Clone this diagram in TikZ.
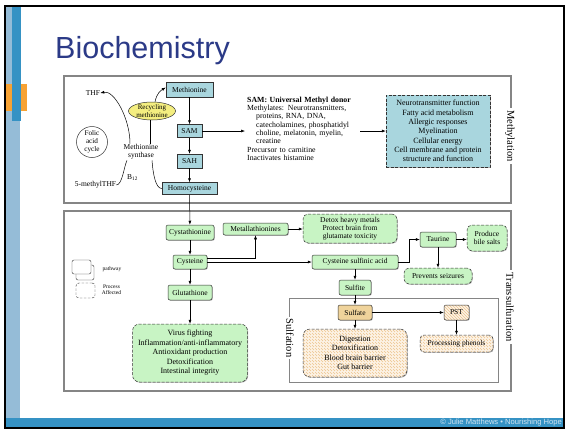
\documentclass[tikz,border=0pt]{standalone}
\usepackage{fontspec}
\setmainfont{Liberation Serif}
\newfontfamily\slidesans{Liberation Sans}
\usetikzlibrary{arrows.meta,patterns,shadows,shapes.geometric,calc}

\definecolor{slideblue}{HTML}{3592C4}
\definecolor{paleblue}{HTML}{95BCD7}
\definecolor{accent}{HTML}{F7A233}
\definecolor{titleblue}{HTML}{2B3A87}
\definecolor{footertext}{HTML}{D2E5F2}
\definecolor{methfill}{HTML}{A9D6DE}
\definecolor{greenfill}{HTML}{C8F4C4}
\definecolor{yellowfill}{HTML}{F4EE80}
\definecolor{tanfill}{HTML}{EFD39B}
\definecolor{hatchbg}{HTML}{FDF3E6}
\definecolor{hatchline}{HTML}{EDC48E}
\definecolor{panelline}{HTML}{858585}

\tikzset{
  txt/.style={font=\fontsize{7.5}{8.5}\selectfont, align=center, inner sep=0pt},
  softshadow/.style={drop shadow={shadow xshift=0.7pt, shadow yshift=-0.7pt, opacity=0.3, fill=black}},
  box/.style={draw=black!80, line width=0.5pt, font=\fontsize{7.5}{8.5}\selectfont,
    align=center, inner sep=0pt, minimum height=14pt, softshadow},
  methbox/.style={box, fill=methfill},
  greenbox/.style={box, fill=greenfill, rounded corners=2pt},
  dgreen/.style={greenbox, dash pattern=on 3pt off 1.5pt, rounded corners=5pt},
  hatchbox/.style={box, preaction={fill=hatchbg}, pattern=north west lines,
    pattern color=hatchline, rounded corners=2pt},
  arr/.style={-{Latex[length=4pt,width=3pt]}, line width=0.5pt},
  link/.style={line width=0.5pt},
  panel/.style={draw=panelline, line width=1.2pt},
  sidelabel/.style={fill=white, rotate=-90, inner sep=2pt, font=\fontsize{10.5}{12}\selectfont},
  legendtxt/.style={font=\fontsize{5.5}{6.3}\selectfont, align=center, inner sep=0pt},
}

\begin{document}
\begin{tikzpicture}[x=1pt, y=-1pt]
\useasboundingbox (0,0) rectangle (565,429);
\fill[white] (0,0) rectangle (565,429);

% slide frame and decoration
\fill[paleblue] (6,7) rectangle (20,418);
\fill[accent] (6,84) rectangle (27,111);
\fill[slideblue] (12,7) rectangle (21,121);
\fill[slideblue] (6,418) rectangle (564,428);
\draw[black, line width=1.6pt] (5,6) rectangle (564,428);
\node[anchor=east, inner sep=0pt, font=\slidesans\fontsize{7.6}{8}\selectfont, text=footertext] (footer) at (562,423) {© Julie Matthews • Nourishing Hope};
\node[anchor=base west, inner sep=0pt, font=\slidesans\fontsize{30.5}{31}\selectfont, text=titleblue] (title) at (55,58) {Biochemistry};

% panels
\draw[panel] (64,76) rectangle (511,203);
\draw[panel] (64,211) rectangle (511,391);
\draw[panelline, line width=1pt] (289,298) rectangle (498,382);
\node[sidelabel] (methyl) at (510,136) {Methylation};
\node[sidelabel] (trans) at (510,307) {Transsulfuration};
\node[sidelabel] (sulfa) at (290,338) {Sulfation};

% methylation cycle
\node[methbox, minimum width=47pt, minimum height=15pt] (meth) at (189.5,89.5) {Methionine};
\node[methbox, minimum width=25pt, minimum height=13pt] (sam) at (189.5,131) {SAM};
\node[methbox, minimum width=25pt, minimum height=14pt] (sah) at (189.5,161) {SAH};
\node[methbox, minimum width=55pt, minimum height=12pt] (homo) at (189.5,188.5) {Homocysteine};

\node[txt] (thf) at (93,93) {THF};
\node[draw=black!80, fill=yellowfill, ellipse, line width=0.5pt, minimum width=47pt, minimum height=18pt,
  inner sep=0pt, align=center, font=\fontsize{7}{7.8}\selectfont] (recyc) at (152,111) {Recycling\\methionine};
\node[draw=black!80, circle, line width=0.5pt, minimum size=31pt, inner sep=0pt, align=center,
  font=\fontsize{7.2}{8}\selectfont] (folic) at (92,142) {Folic\\acid\\cycle};
\node[txt] (msyn) at (141,151.5) {Methionine\\synthase};
\node[txt] (b12) at (132.5,177.5) {B\textsubscript{12}};
\node[txt] (mthf) at (95.5,185) {5-methylTHF};

\draw[arr] ([xshift=-11pt]msyn.north) .. controls +(0,-25) and +(14,-3) .. (thf.east);
\draw[link] ([xshift=9pt]msyn.north) -- ([xshift=-2pt]recyc.south);
\draw[arr] ([xshift=3pt]recyc.north) .. controls +(2,-9) and +(-5,3) .. ([yshift=2pt]meth.west);
\draw[link] (mthf.east) .. controls +(6,0) and +(-3,6) .. ([xshift=-14pt,yshift=-1pt]msyn.south);
\draw[link] ([xshift=11pt,yshift=-1pt]msyn.south) .. controls +(1,14) and +(-6,0) .. (homo.west);

\draw[arr] (meth) -- (sam);
\draw[arr] (sam) -- (sah);
\draw[arr] (sah) -- (homo);

\node[anchor=north west, inner sep=0pt, text width=113pt, align=left,
  font=\fontsize{7.8}{8.35}\selectfont] (samtxt) at (247,96.5)
  {\textbf{SAM: Universal Methyl donor}\\
   Methylates: Neurotransmitters,\\
   \hspace*{9pt}proteins, RNA, DNA,\\
   \hspace*{9pt}catecholamines, phosphatidyl\\
   \hspace*{9pt}choline, melatonin, myelin,\\
   \hspace*{9pt}creatine\\
   Precursor to carnitine\\
   Inactivates histamine};
\node[methbox, dash pattern=on 3pt off 1.5pt, minimum width=104pt, minimum height=72pt,
  font=\fontsize{8}{9.3}\selectfont] (func) at (438,131)
  {Neurotransmitter function\\Fatty acid metabolism\\Allergic responses\\Myelination\\Cellular energy\\Cell membrane and protein\\structure and function};
\draw[arr] (sam.east) -- ([xshift=-2pt]sam.east -| samtxt.west);
\draw[arr] (samtxt.east |- func.west) -- (func.west);

% transsulfuration
\node[greenbox, minimum width=48pt, minimum height=15pt] (cysta) at (190,232.5) {Cystathionine};
\node[greenbox, minimum width=65pt, minimum height=12pt] (metal) at (255.5,229) {Metallathionines};
\node[dgreen, minimum width=94pt, minimum height=29pt, font=\fontsize{7.5}{8.2}\selectfont] (detox) at (350,228.5)
  {Detox heavy metals\\Protect brain from\\glutamate toxicity};
\node[greenbox, minimum width=34pt, minimum height=14pt] (cys) at (190,262) {Cysteine};
\node[greenbox, minimum width=44pt, minimum height=15pt] (glut) at (190,292.5) {Glutathione};
\node[dgreen, rounded corners=7pt, minimum width=115pt, minimum height=58pt,
  font=\fontsize{8}{9.5}\selectfont] (virus) at (190,353)
  {Virus fighting\\Inflammation/anti-inflammatory\\Antioxidant production\\Detoxification\\Intestinal integrity};
\node[greenbox, minimum width=86pt, minimum height=14pt] (csa) at (355,262) {Cysteine sulfinic acid};
\node[greenbox, minimum width=36pt, minimum height=15pt] (taurine) at (438,239.5) {Taurine};
\node[dgreen, minimum width=40pt, minimum height=26pt] (bile) at (487,238) {Produce\\bile salts};
\node[dgreen, minimum width=68pt, minimum height=16pt] (seiz) at (438,276) {Prevents seizures};
\node[greenbox, minimum width=32pt, minimum height=15pt] (sulfite) at (355,287.5) {Sulfite};

% sulfation
\node[box, fill=tanfill, rounded corners=2pt, minimum width=34pt, minimum height=15pt] (sulfate) at (355,312.5) {Sulfate};
\node[hatchbox, minimum width=25pt, minimum height=15pt] (pst) at (456.5,312.5) {PST};
\node[hatchbox, dash pattern=on 3pt off 1.5pt, rounded corners=4pt, minimum width=73pt, minimum height=17pt] (phen) at (456.5,343.5) {Processing phenols};
\node[hatchbox, dash pattern=on 3pt off 1.5pt, rounded corners=7pt, minimum width=104pt, minimum height=48pt,
  font=\fontsize{8}{9.3}\selectfont] (dig) at (355,353)
  {Digestion\\Detoxification\\Blood brain barrier\\Gut barrier};

\draw[arr] (homo) -- (cysta);
\draw[arr] (cysta) -- (cys);
\draw[arr] (cys) -- (glut);
\draw[arr] (glut) -- (virus);
\draw[arr] ([yshift=4pt]cys.east) -| (metal.south);
\draw[arr] (metal.east) -- (metal.east -| detox.west);
\draw[arr] (cys.east) -- (csa.west);
\draw[arr] (csa.east) -- ++(11,0) |- (taurine.west);
\draw[arr] (taurine.east) -- (taurine.east -| bile.west);
\draw[arr] (taurine.south) -- (taurine.south |- seiz.north);
\draw[arr] (csa.south) -- (sulfite.north);
\draw[arr] (sulfite.south) -- (sulfate.north);
\draw[arr] (sulfate.east) -- (pst.west);
\draw[arr] (pst.south) -- (phen.north);
\draw[arr] (sulfate.south) -- (dig.north);

% legend
\node[draw=black!80, fill=white, rounded corners=2pt, minimum width=18pt, minimum height=15pt, inner sep=0pt] (legback) at (85,272.5) {};
\node[draw=black!80, fill=white, rounded corners=2pt, minimum width=19pt, minimum height=14pt, inner sep=0pt] (legfront) at (81.5,267) {};
\node[legendtxt] (legpath) at (112,269) {pathway};
\node[draw=black!80, dash pattern=on 2.5pt off 1.5pt, rounded corners=3pt, minimum width=19pt, minimum height=15pt, inner sep=0pt] (legproc) at (85.5,290.5) {};
\node[legendtxt] (legproctxt) at (111.5,290) {Process\\Affected};
\end{tikzpicture}
\end{document}
